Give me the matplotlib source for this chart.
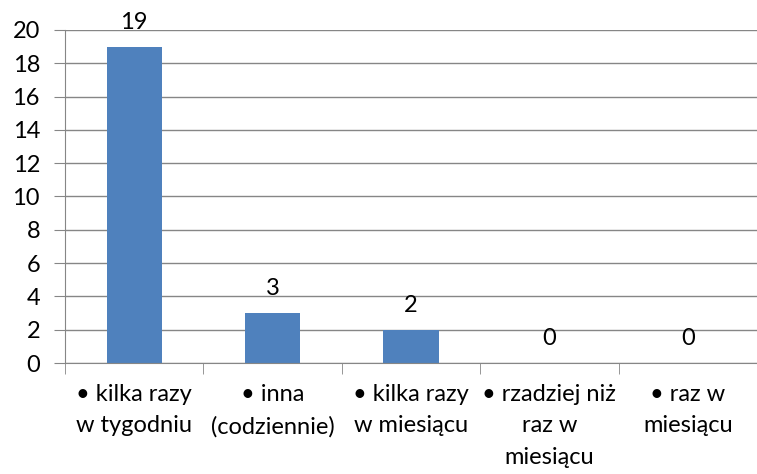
import matplotlib.pyplot as plt
import numpy as np

categories = ['• kilka razy\nw tygodniu', '• inna\n(codziennie)', '• kilka razy\nw miesiącu',
              '• rzadziej niż\nraz w\nmiesiącu', '• raz w\nmiesiącu']
values = [19, 3, 2, 0, 0]
yticks = [0, 2, 4, 6, 8, 10, 12, 14, 16, 18, 20]

plt.rcParams['font.family'] = ['Lato', 'DejaVu Sans']

fig = plt.figure(figsize=(7.57, 4.74), dpi=100)
ax = fig.add_axes([65 / 757, 1 - 363 / 474, 1 - 65 / 757, (363 - 30) / 474])

x = np.arange(len(values))
bars = ax.bar(x, values, width=0.4, color='#4F81BD', zorder=3)
ax.bar_label(bars, labels=[str(v) for v in values], padding=10, fontsize=17)

ax.set_xlim(-0.5, len(values) - 0.5)
ax.set_ylim(0, 20)
ax.set_yticks(yticks)
ax.tick_params(axis='y', labelsize=17, length=8, color='#868686', pad=10)

# labels at the centres, tick marks between categories
ax.set_xticks(x)
ax.set_xticklabels(categories, fontsize=17, linespacing=1.62, va='top')
ax.set_xticks(np.arange(len(values) + 1) - 0.5, minor=True)
ax.tick_params(axis='x', which='major', length=0, pad=15)
ax.tick_params(axis='x', which='minor', length=8, color='#868686')

ax.grid(axis='y', color='#868686', linewidth=1, zorder=0)
for s in ['top', 'right']:
    ax.spines[s].set_visible(False)
ax.spines['left'].set_color('#868686')
ax.spines['bottom'].set_color('#868686')
ax.spines['left'].set_zorder(4)
ax.spines['bottom'].set_zorder(4)

fig.savefig('out.png', dpi=100)
